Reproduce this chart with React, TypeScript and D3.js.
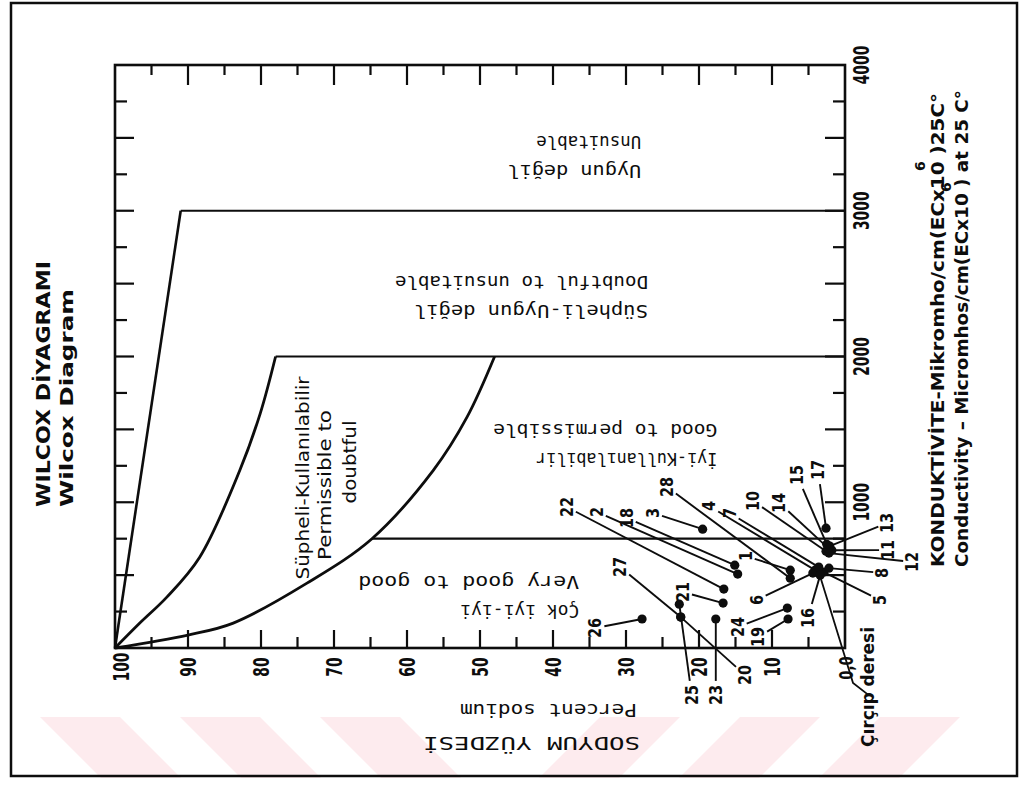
import React from "react";
import * as d3 from "d3";

// ---------- data ----------
const naTickValues = [100, 90, 80, 70, 60, 50, 40, 30, 20, 10];
const naTickLabels = ["100", "90", "80", "70", "60", "50", "40", "30", "20", "10"];
const ecTickValues = [1000, 2000, 3000, 4000];
const ecTickLabels = ["1000", "2000", "3000", "4000"];

// class boundaries: [percent sodium, conductivity]
const boundaryLow: [number, number][] = [
  [100, 0], [90, 89], [83.8, 171], [73.7, 445], [64.8, 750], [56.4, 1219], [51.8, 1582], [48, 2000],
];
const boundaryMid: [number, number][] = [
  [100, 0], [96.6, 171], [92.9, 349], [88.4, 623], [82.9, 1219], [80.1, 1610], [78, 2000],
];
const boundaryHigh: [number, number][] = [[100, 0], [91, 3000]];
const classLimitsEC = [750, 2000, 3000];
const classLimitsNa = [64.8, 78, 91];

// samples: id, percent sodium, conductivity
const sampleIds = ["1","2","3","4","5","6","7","8","10","11","12","13","14","15","16","17","18","19","20","21","22","23","24","25","26","27","28"];
const sampleNa = [7.5, 14.7, 19.5, 4.1, 2.9, 4.4, 3.6, 2.2, 2.6, 1.8, 2.2, 2.1, 2.3, 2.5, 3.4, 2.6, 15.1, 7.8, 22.5, 16.7, 16.6, 17.7, 7.9, 22.7, 27.8, 22.5, 7.5];
const sampleEc = [534, 507, 815, 534, 521, 514, 555, 548, 664, 671, 651, 699, 685, 712, 500, 822, 568, 199, 212, 308, 404, 199, 274, 301, 199, 212, 479];
// label anchors in the same units
const labelNa = [13.6, 34.0, 26.3, 18.6, -4.8, 12.1, 15.8, -5.1, 12.6, -5.9, -9.2, -5.8, 9.0, 6.6, 5.1, 3.7, 29.9, 11.9, 13.7, 22.2, 38.1, 17.7, 14.7, 21.0, 34.2, 30.8, 24.4];
const labelEc = [631, 933, 926, 974, 329, 329, 926, 515, 1009, 672, 590, 858, 995, 1187, 206, 1221, 892, 75, -185, 384, 967, -322, 144, -322, 137, 556, 1105];

const stationName = "Çırçıp deresi";
const stationNa = 3.4;
const stationEc = 490;

const regionTexts = [
  { lines: ["Uygun değil", "Unsuitable"], na: 27.9, ec: 3273, len: [134, 105] },
  { lines: ["Süpheli-Uygun değil", "Doubtful to unsuitable"], na: 27.0, ec: 2312, len: [234, 253] },
  { lines: ["İyi-Kullanılabilir", "Good to permissible"], na: 17.5, ec: 1297, len: [181, 224] },
  { lines: ["Çok iyi-iyi", "Very good to good"], na: 36.4, ec: 254, len: [119, 221] },
];

// ---------- layout ----------
const W = 1028, H = 787;
const X = d3.scaleLinear().domain([100, 0]).range([115, 845]);
const Y = d3.scaleLinear().domain([0, 4000]).range([648, 65]);
const FONT = "DejaVu Sans";
const INK = "#0d0d0d";

function Txt(props: any) {
  const { x, y, rot = 0, size = 17, len, weight = "bold", anchor = "middle", sx = 1, children, family = FONT } = props;
  return (
    <text
      transform={`translate(${x},${y}) rotate(${rot}) scale(${sx},1)`}
      fontSize={size}
      fontFamily={family}
      fontWeight={weight}
      textAnchor={anchor}
      dominantBaseline="central"
      fill={INK}
      {...(len ? { textLength: len, lengthAdjust: "spacingAndGlyphs" } : {})}
    >
      {children}
    </text>
  );
}

function leaderStart(lx: number, ly: number, dx: number, dy: number, nChars: number) {
  const vx = dx - lx, vy = dy - ly;
  const d = Math.hypot(vx, vy) || 1;
  const ux = vx / d, uy = vy / d;
  const hw = 9, hh = nChars * 5.5 + 3;
  const t = Math.min(Math.abs(ux) > 1e-6 ? hw / Math.abs(ux) : 1e9, Math.abs(uy) > 1e-6 ? hh / Math.abs(uy) : 1e9);
  return [lx + ux * t, ly + uy * t];
}

export default function App() {
  const curve = d3.line<[number, number]>().x(d => X(d[0])).y(d => Y(d[1])).curve(d3.curveCatmullRom.alpha(0.5));
  const straight = d3.line<[number, number]>().x(d => X(d[0])).y(d => Y(d[1]));

  const naMinor = d3.range(5, 100, 5);
  const ecMinor = d3.range(250, 4000, 250);

  // watermark chevrons
  const stripes: string[] = [];
  const top = 717, bot = 778;
  [40, 180, 320].forEach(x0 => {
    stripes.push(`M${x0},${top}L${x0 + 80},${top}L${x0 + 80 + (bot - top)},${bot}L${x0 + (bot - top)},${bot}Z`);
  });
  [600, 740, 880].forEach(x0 => {
    stripes.push(`M${x0},${top}L${x0 + 80},${top}L${x0 + 80 - (bot - top)},${bot}L${x0 - (bot - top)},${bot}Z`);
  });

  return (
    <svg width={W} height={H} style={{ position: "absolute", left: 0, top: 0, background: "#fff" }}>
      <rect x={0} y={0} width={W} height={H} fill="#fff" />
      {stripes.map((p, i) => <path key={i} d={p} fill="#fdebee" />)}
      <rect x={11} y={3} width={1006} height={773} fill="none" stroke={INK} strokeWidth={2.5} />

      {/* frame */}
      <rect x={X(100)} y={Y(4000)} width={X(0) - X(100)} height={Y(0) - Y(4000)} fill="none" stroke={INK} strokeWidth={2.6} />

      {/* ticks */}
      {naMinor.map(v => {
        const major = v % 10 === 0;
        return (
          <g key={"na" + v} stroke={INK} strokeWidth={2.2}>
            <line x1={X(v)} x2={X(v)} y1={Y(0)} y2={Y(0) - (major ? 18 : 11)} />
            <line x1={X(v)} x2={X(v)} y1={Y(4000)} y2={Y(4000) + (major ? 20 : 10)} />
          </g>
        );
      })}
      {ecMinor.map(v => {
        const major = v % 500 === 0;
        return (
          <g key={"ec" + v} stroke={INK} strokeWidth={2.2}>
            <line y1={Y(v)} y2={Y(v)} x1={X(100)} x2={X(100) + (major ? 19 : 12)} />
            <line y1={Y(v)} y2={Y(v)} x1={X(0)} x2={X(0) - (major ? 20 : 12)} />
          </g>
        );
      })}

      {/* class boundaries */}
      <path d={straight(boundaryHigh) || ""} fill="none" stroke={INK} strokeWidth={2.6} />
      <path d={curve(boundaryMid) || ""} fill="none" stroke={INK} strokeWidth={2.8} />
      <path d={curve(boundaryLow) || ""} fill="none" stroke={INK} strokeWidth={2.8} />
      {classLimitsEC.map((ec, i) => (
        <line key={"lim" + ec} x1={X(classLimitsNa[i])} x2={X(0)} y1={Y(ec)} y2={Y(ec)} stroke={INK} strokeWidth={2.2} />
      ))}

      {/* tick labels */}
      {naTickValues.map((v, i) => (
        <Txt key={"nl" + v} x={X(v) + (v === 100 ? 6 : 0)} y={667} rot={-90} size={21} sx={0.66}>{naTickLabels[i]}</Txt>
      ))}
      <Txt x={X(0) + 2} y={668} rot={-90} size={19} sx={0.7}>0,0</Txt>
      {ecTickValues.map((v, i) => (
        <Txt key={"el" + v} x={861} y={Y(v)} rot={-90} size={21} sx={0.66}>{ecTickLabels[i]}</Txt>
      ))}

      {/* station leader */}
      <polyline
        points={`${X(stationNa)},${Y(stationEc)} ${X(-1.1)},${Y(-240)} ${X(-1.1) + 15},${Y(-320)}`}
        fill="none" stroke={INK} strokeWidth={1.8}
      />
      <Txt x={868} y={687} rot={-90} size={17} len={120}>{stationName}</Txt>

      {/* sample leaders, dots, labels */}
      {sampleIds.map((id, i) => {
        const dx = X(sampleNa[i]), dy = Y(sampleEc[i]);
        const lx = X(labelNa[i]), ly = Y(labelEc[i]);
        const [sx0, sy0] = leaderStart(lx, ly, dx, dy, id.length);
        return (
          <g key={"s" + id}>
            <line x1={sx0} y1={sy0} x2={dx} y2={dy} stroke={INK} strokeWidth={1.9} />
            <circle cx={dx} cy={dy} r={4.6} fill={INK} />
            <Txt x={lx} y={ly} rot={-90} size={17} sx={0.85}>{id}</Txt>
          </g>
        );
      })}

      {/* region texts, upside down */}
      {regionTexts.map((r, i) => (
        <g key={"r" + i}>
          <Txt x={X(r.na)} y={Y(r.ec)} rot={180} size={17} weight="normal" anchor="start" len={r.len[0]} family="DejaVu Sans Mono">{r.lines[0]}</Txt>
          <Txt x={X(r.na)} y={Y(r.ec) - 29} rot={180} size={17} weight="normal" anchor="start" len={r.len[1]} family="DejaVu Sans Mono">{r.lines[1]}</Txt>
        </g>
      ))}

      {/* permissible to doubtful */}
      <Txt x={303} y={478} rot={-90} size={17} weight="normal" len={203}>Süpheli-Kullanılabilir</Txt>
      <Txt x={325} y={485} rot={-90} size={17} weight="normal" len={150}>Permissible  to</Txt>
      <Txt x={350} y={462} rot={-90} size={17} weight="normal" len={83}>doubtful</Txt>

      {/* axis titles bottom, upside down */}
      <Txt x={637} y={710} rot={180} size={17} weight="normal" anchor="start" len={177} family="DejaVu Sans Mono">Percent sodium</Txt>
      <Txt x={640} y={743} rot={180} size={18} weight="normal" anchor="start" len={217} family="DejaVu Sans Mono">SODYUM YÜZDESİ</Txt>

      {/* right titles */}
      <Txt x={937} y={567} rot={-90} size={18} anchor="start" len={474}>KONDUKTİVİTE-Mikromho/cm(ECx10 )25C°</Txt>
      <Txt x={920} y={166} rot={-90} size={14}>6</Txt>
      <Txt x={961} y={567} rot={-90} size={18} anchor="start" len={477}>Conductivity – Micromhos/cm(ECx10 ) at 25 C°</Txt>
      <Txt x={946} y={187} rot={-90} size={14}>6</Txt>

      {/* chart title */}
      <Txt x={43} y={507} rot={-90} size={19} anchor="start" len={246}>WILCOX  DİYAGRAMI</Txt>
      <Txt x={66} y={507} rot={-90} size={18} anchor="start" len={218}>Wilcox   Diagram</Txt>
    </svg>
  );
}
